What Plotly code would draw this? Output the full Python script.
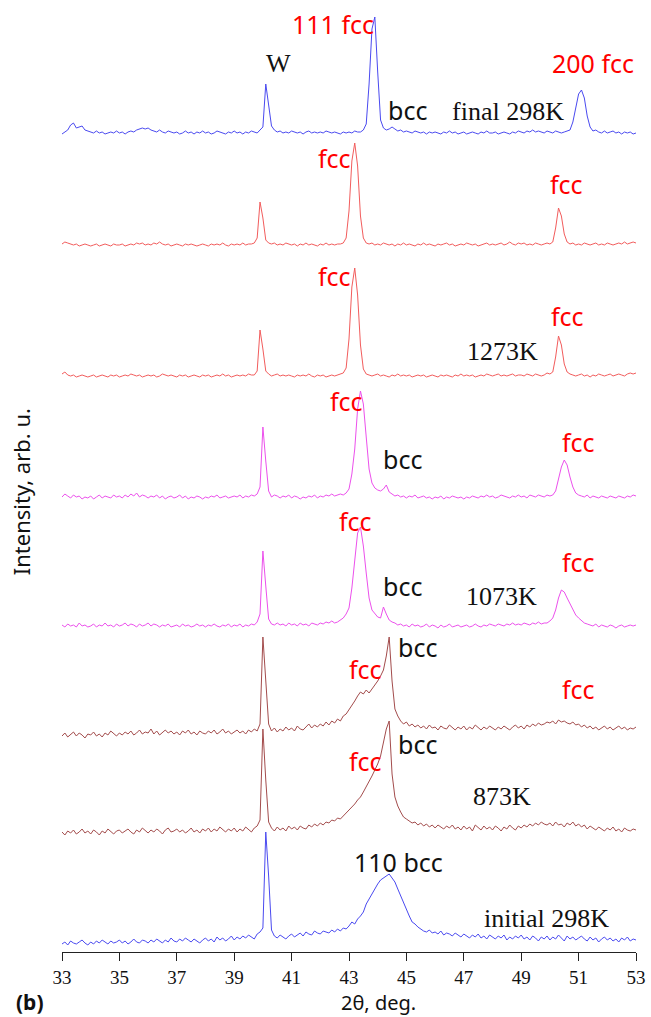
import numpy as np
import plotly.graph_objects as go

# 2-theta sampling (deg): 33.0 .. 53.0, step 0.1
two_theta = np.round(np.arange(33.0, 53.0001, 0.1), 2)

# Intensities (arb. u., above each pattern's own baseline)
final_298K = [
    0, 2, 4, 9, 11, 6, 7, 8, 4, 3,
    2, 1, 3, 1, 2, 0, 1, 2, 1, 3,
    1, 2, 0, 2, 3, 2, 4, 5, 6, 5,
    6, 4, 3, 2, 4, 2, 1, 3, 2, 1,
    2, 0, 1, 3, 1, 2, 0, 2, 1, 3,
    1, 2, 0, 1, 3, 2, 1, 0, 2, 1,
    3, 1, 2, 0, 2, 1, 3, 2, 1, 4,
    7, 50, 30, 8, 4, 2, 3, 1, 2, 1,
    3, 2, 1, 2, 0, 2, 3, 1, 2, 1,
    2, 1, 3, 2, 1, 2, 1, 0, 2, 1,
    2, 1, 3, 2, 2, 4, 10, 50, 105, 117,
    62, 14, 6, 4, 5, 7, 5, 3, 4, 2,
    3, 2, 1, 3, 2, 1, 2, 0, 2, 1,
    2, 1, 0, 2, 1, 3, 1, 2, 0, 1,
    2, 0, 1, 2, 1, 0, 2, 1, 3, 1,
    1, 2, 0, 1, 2, 1, 0, 2, 1, 3,
    2, 1, 3, 2, 4, 2, 3, 2, 1, 3,
    2, 1, 3, 2, 1, 2, 3, 4, 12, 27,
    40, 44, 36, 18, 7, 3, 4, 2, 1, 3,
    1, 2, 3, 1, 2, 0, 2, 1, 2, 0,
    1]

heat_1273K_a = [
    2, 4, 3, 2, 1, 2, 0, 1, 2, 1,
    0, 1, 2, 0, 1, 2, 1, 0, 2, 1,
    1, 2, 0, 1, 2, 1, 3, 2, 3, 1,
    2, 1, 3, 2, 4, 2, 1, 2, 0, 1,
    2, 1, 0, 2, 1, 2, 1, 0, 1, 2,
    1, 0, 2, 1, 2, 1, 3, 1, 0, 2,
    1, 2, 1, 3, 1, 2, 2, 3, 8, 44,
    28, 6, 3, 2, 3, 1, 2, 1, 3, 2,
    1, 2, 0, 2, 1, 3, 1, 2, 1, 0,
    2, 1, 3, 1, 2, 1, 2, 2, 3, 8,
    35, 85, 103, 80, 30, 8, 3, 2, 3, 1,
    2, 1, 3, 2, 1, 2, 0, 2, 1, 3,
    1, 2, 1, 0, 2, 1, 3, 1, 2, 1,
    0, 2, 1, 2, 3, 1, 2, 0, 1, 2,
    1, 3, 2, 1, 2, 0, 1, 2, 3, 1,
    2, 1, 2, 3, 1, 2, 4, 2, 1, 3,
    2, 3, 1, 2, 1, 3, 2, 1, 2, 3,
    2, 4, 18, 38, 30, 12, 4, 2, 3, 1,
    2, 1, 3, 2, 1, 2, 3, 1, 2, 1,
    3, 2, 1, 2, 3, 2, 4, 2, 3, 4,
    3]

heat_1273K_b = [
    3, 5, 2, 1, 2, 0, 1, 2, 1, 0,
    1, 2, 0, 1, 2, 1, 0, 2, 1, 2,
    0, 1, 2, 1, 3, 2, 1, 2, 0, 1,
    2, 1, 2, 0, 1, 3, 2, 1, 2, 1,
    0, 2, 1, 2, 0, 1, 2, 1, 0, 2,
    1, 2, 0, 1, 2, 1, 3, 1, 2, 0,
    1, 2, 1, 2, 1, 3, 2, 2, 6, 47,
    28, 6, 3, 1, 2, 3, 1, 2, 1, 2,
    1, 0, 2, 1, 2, 1, 3, 1, 0, 2,
    1, 2, 0, 1, 2, 1, 2, 3, 4, 9,
    38, 90, 109, 82, 32, 8, 3, 2, 1, 2,
    3, 1, 2, 1, 0, 2, 1, 3, 1, 2,
    1, 2, 0, 1, 2, 1, 2, 0, 1, 2,
    1, 0, 2, 1, 2, 1, 0, 2, 1, 3,
    1, 2, 1, 2, 0, 1, 2, 1, 3, 2,
    1, 2, 3, 1, 2, 1, 2, 3, 1, 2,
    2, 1, 3, 2, 1, 3, 2, 1, 2, 4,
    3, 5, 20, 41, 32, 13, 5, 3, 2, 1,
    2, 3, 1, 2, 0, 2, 1, 3, 2, 1,
    2, 3, 1, 2, 3, 2, 1, 3, 4, 3,
    4]

heat_1073K_a = [
    2, 5, 3, 1, 4, 2, 3, 0, 2, 1,
    3, 0, 2, 4, 1, 3, 2, 1, 4, 2,
    3, 1, 4, 2, 5, 3, 6, 2, 4, 3,
    1, 3, 2, 4, 1, 3, 0, 2, 3, 1,
    2, 4, 1, 3, 0, 2, 1, 3, 2, 0,
    2, 1, 3, 2, 4, 1, 2, 3, 1, 2,
    3, 2, 4, 1, 3, 2, 4, 3, 5, 12,
    72, 38, 8, 2, 4, 3, 1, 3, 2, 4,
    1, 3, 2, 0, 2, 1, 3, 2, 4, 1,
    3, 2, 4, 3, 5, 3, 4, 5, 4, 6,
    10, 25, 50, 90, 108, 95, 62, 30, 16, 11,
    9, 8, 10, 14, 7, 5, 3, 4, 2, 3,
    1, 3, 2, 4, 1, 2, 3, 1, 2, 0,
    2, 1, 3, 0, 2, 1, 3, 2, 1, 2,
    0, 2, 1, 3, 2, 1, 3, 2, 4, 2,
    3, 1, 2, 4, 3, 2, 1, 3, 2, 4,
    2, 3, 1, 4, 3, 2, 4, 3, 2, 4,
    3, 4, 8, 20, 32, 39, 34, 22, 12, 6,
    4, 3, 2, 4, 1, 3, 2, 1, 3, 2,
    1, 3, 2, 1, 3, 2, 1, 3, 2, 4,
    3]

heat_1073K_b = [
    3, 1, 4, 2, 3, 1, 5, 2, 3, 1,
    2, 4, 1, 3, 2, 5, 2, 3, 1, 4,
    2, 3, 5, 2, 4, 3, 1, 4, 2, 3,
    5, 2, 4, 3, 1, 3, 2, 4, 1, 2,
    3, 1, 4, 2, 3, 1, 2, 4, 2, 3,
    1, 3, 2, 4, 2, 1, 3, 2, 4, 1,
    3, 2, 4, 1, 3, 2, 4, 3, 6, 14,
    77, 42, 9, 4, 3, 5, 3, 4, 2, 5,
    3, 4, 2, 5, 3, 4, 2, 5, 4, 3,
    5, 4, 6, 5, 7, 5, 6, 8, 10, 14,
    20, 40, 70, 95, 101, 82, 55, 30, 18, 14,
    11, 10, 21, 14, 8, 6, 5, 3, 4, 2,
    3, 1, 4, 2, 3, 1, 2, 4, 1, 3,
    2, 0, 3, 1, 2, 4, 1, 2, 3, 1,
    2, 3, 1, 2, 4, 2, 1, 3, 2, 4,
    3, 2, 4, 3, 2, 4, 3, 5, 3, 4,
    3, 5, 4, 3, 5, 4, 6, 4, 5, 5,
    7, 10, 18, 30, 38, 36, 30, 24, 18, 13,
    10, 7, 5, 4, 3, 2, 4, 1, 3, 2,
    1, 3, 2, 0, 2, 3, 1, 2, 3, 2,
    3]

heat_873K_a = [
    0, 3, -1, 2, 4, 0, 3, 1, -2, 2,
    1, 4, 0, 2, -1, 3, 1, 5, 2, 0,
    3, 1, 4, 2, 5, 1, 3, 6, 2, 4,
    3, 7, 2, 5, 1, 4, 6, 3, 5, 2,
    4, 1, 5, 3, 6, 2, 4, 1, 5, 3,
    2, 5, 3, 6, 2, 4, 7, 3, 5, 2,
    4, 6, 3, 5, 2, 6, 4, 7, 5, 12,
    99, 58, 12, 5, 8, 4, 7, 5, 9, 6,
    8, 5, 10, 7, 6, 9, 12, 8, 11, 9,
    12, 10, 14, 11, 15, 13, 17, 15, 20, 22,
    26, 30, 35, 40, 44, 42, 46, 43, 47, 50,
    55, 60, 66, 80, 99, 55, 27, 20, 15, 12,
    14, 10, 12, 9, 11, 8, 10, 7, 11, 8,
    9, 6, 10, 8, 7, 11, 8, 6, 9, 7,
    10, 6, 9, 7, 11, 8, 6, 9, 7, 10,
    8, 6, 9, 7, 10, 8, 6, 9, 11, 8,
    10, 7, 11, 9, 12, 10, 13, 11, 12, 14,
    13, 15, 12, 16, 14, 15, 13, 12, 14, 11,
    12, 9, 11, 8, 10, 7, 9, 6, 8, 10,
    7, 9, 6, 8, 10, 7, 9, 6, 8, 7,
    9]

heat_873K_b = [
    2, -1, 3, 1, 4, 0, 2, 5, 1, 3,
    0, 4, 2, -1, 3, 1, 5, 2, 0, 3,
    4, 1, 3, 5, 2, 0, 4, 2, 6, 3,
    1, 4, 2, 5, 3, 0, 4, 6, 2, 3,
    5, 2, 4, 1, 3, 6, 2, 4, 1, 5,
    3, 6, 2, 5, 3, 7, 4, 2, 5, 3,
    6, 2, 5, 3, 7, 4, 2, 6, 8, 14,
    105, 54, 12, 6, 3, 7, 4, 6, 3, 8,
    5, 7, 4, 8, 6, 5, 9, 7, 10, 8,
    11, 9, 12, 11, 14, 13, 16, 15, 18, 20,
    24, 27, 30, 34, 37, 42, 47, 52, 58, 64,
    70, 78, 90, 105, 113, 60, 37, 28, 22, 17,
    15, 13, 11, 12, 9, 11, 8, 10, 7, 9,
    6, 9, 7, 5, 8, 6, 9, 5, 7, 4,
    8, 5, 7, 3, 9, 6, 4, 8, 5, 7,
    4, 8, 6, 3, 7, 5, 9, 6, 4, 8,
    6, 9, 7, 10, 8, 11, 9, 12, 10, 9,
    11, 8, 12, 9, 10, 7, 11, 9, 12, 8,
    10, 7, 9, 5, 8, 6, 4, 7, 5, 3,
    6, 4, 7, 3, 5, 2, 6, 4, 3, 5,
    4]

initial_298K = [
    0, 2, -1, 3, 1, 0, 2, 4, 1, -1,
    2, 0, 3, 1, 4, 2, 0, 3, 1, 2,
    4, 1, 3, 0, 2, 5, 2, 1, 4, 3,
    1, 4, 2, 5, 3, 1, 4, 2, 6, 3,
    2, 5, 3, 6, 4, 2, 5, 3, 1, 4,
    6, 3, 5, 2, 7, 4, 6, 3, 5, 8,
    4, 7, 5, 8, 6, 9, 7, 5, 10, 12,
    16, 112, 68, 14, 8, 6, 9, 7, 5, 8,
    10, 7, 9, 11, 8, 12, 10, 9, 13, 11,
    10, 13, 12, 11, 14, 12, 15, 13, 16, 15,
    18, 22, 20, 25, 28, 32, 40, 45, 50, 56,
    60, 64, 66, 68, 70, 66, 62, 55, 48, 42,
    35, 28, 22, 20, 17, 15, 13, 12, 14, 11,
    12, 10, 13, 9, 11, 10, 8, 11, 9, 7,
    10, 8, 6, 9, 7, 10, 6, 8, 5, 9,
    7, 5, 8, 6, 9, 4, 7, 5, 8, 6,
    9, 5, 7, 4, 8, 6, 3, 7, 5, 8,
    4, 7, 5, 9, 6, 3, 8, 5, 7, 4,
    6, 8, 5, 3, 7, 4, 6, 2, 5, 7,
    4, 6, 3, 5, 2, 6, 4, 7, 3, 5,
    4]

patterns = [final_298K, heat_1273K_a, heat_1273K_b, heat_1073K_a,
            heat_1073K_b, heat_873K_a, heat_873K_b, initial_298K]
offsets = [818, 706, 575, 453, 324, 216, 118, 8]
colors = ["#4a4af0", "#f25c5c", "#f25c5c", "#ec50ec",
          "#ec50ec", "#a34c4c", "#a34c4c", "#4a4af0"]

x_ticks = [33, 35, 37, 39, 41, 43, 45, 47, 49, 51, 53]

# Text labels: (text, 2theta, height, colour, family)
RED = "#ff0000"
BLK = "#111111"
SANS = "Noto Sans"
SERIF = "Liberation Serif"
labels = [
    ("111 fcc", 42.43, 928, RED, SANS),
    ("W", 40.54, 889, BLK, SERIF),
    ("200 fcc", 51.51, 889, RED, SANS),
    ("bcc", 45.04, 842, BLK, SANS),
    ("final 298K", 48.54, 841, BLK, SERIF),
    ("fcc", 42.51, 794, RED, SANS),
    ("fcc", 50.58, 768, RED, SANS),
    ("fcc", 42.51, 676, RED, SANS),
    ("fcc", 50.61, 636, RED, SANS),
    ("1273K", 48.36, 601, BLK, SERIF),
    ("fcc", 42.93, 551, RED, SANS),
    ("bcc", 44.87, 493, BLK, SANS),
    ("fcc", 50.99, 510, RED, SANS),
    ("fcc", 43.24, 431, RED, SANS),
    ("bcc", 44.87, 366, BLK, SANS),
    ("1073K", 48.33, 356, BLK, SERIF),
    ("fcc", 50.99, 390, RED, SANS),
    ("fcc", 43.59, 283, RED, SANS),
    ("bcc", 45.39, 305, BLK, SANS),
    ("fcc", 50.99, 263, RED, SANS),
    ("fcc", 43.59, 191, RED, SANS),
    ("bcc", 45.39, 208, BLK, SANS),
    ("873K", 48.33, 156, BLK, SERIF),
    ("110 bcc", 44.73, 90, BLK, SANS),
    ("initial 298K", 49.89, 34, BLK, SERIF),
]

# Double-headed arrows marking temperature stages: (2theta, top, bottom)
arrows = [(53.07, 757, 542), (53.07, 537, 299), (53.07, 290, 55)]

fig = go.Figure()
for vals, off, col in zip(patterns, offsets, colors):
    fig.add_trace(go.Scatter(
        x=two_theta, y=np.array(vals) + off, mode="lines",
        line=dict(color=col, width=1), hoverinfo="skip", showlegend=False))

annotations = []
for text, xv, yv, col, fam in labels:
    size = 25 if fam == SANS else 26
    annotations.append(dict(x=xv, y=yv, xref="x", yref="y", text=text,
                            showarrow=False, xanchor="center", yanchor="middle",
                            font=dict(family=fam, size=size, color=col)))
for xv, ytop, ybot in arrows:
    annotations.append(dict(x=xv, y=ytop, ax=xv, ay=ybot, xref="x", yref="y",
                            axref="x", ayref="y", text="", showarrow=True,
                            arrowhead=2, arrowside="end+start", arrowsize=1.3,
                            arrowwidth=1.4, arrowcolor="#1a1a1a", standoff=0,
                            startstandoff=0, startarrowhead=2, startarrowsize=1.3))

annotations.append(dict(x=44.04, y=-0.0528, xref="x", yref="paper",
                        text="2θ, deg.", showarrow=False, xanchor="center",
                        yanchor="middle", font=dict(family=SANS, size=20, color=BLK)))
annotations.append(dict(x=-0.071, y=460, xref="paper", yref="y",
                        text="Intensity, arb. u.", showarrow=False, textangle=-90,
                        xanchor="center", yanchor="middle",
                        font=dict(family=SANS, size=22, color=BLK)))
annotations.append(dict(x=-0.055, y=-0.0528, xref="paper", yref="paper",
                        text="<b>(b)</b>", showarrow=False, xanchor="center",
                        yanchor="middle", font=dict(family=SANS, size=21, color=BLK)))

fig.update_layout(
    width=651, height=1017,
    margin=dict(l=62, r=11, t=5, b=65),
    paper_bgcolor="white", plot_bgcolor="white",
    xaxis=dict(range=[33, 53], tickvals=x_ticks, ticktext=[str(t) for t in x_ticks],
               showline=True, linecolor="#222", linewidth=1.2,
               ticks="outside", ticklen=8, tickcolor="#222", tickwidth=1.2,
               showgrid=False, zeroline=False,
               tickfont=dict(family=SERIF, size=19, color=BLK)),
    yaxis=dict(range=[0, 947], visible=False, showgrid=False, zeroline=False),
    annotations=annotations,
)

# Remove the default page margin so the figure fills the window exactly.
fig.write_html("out.html",
               config={"displayModeBar": False},
               post_script="document.body.style.margin='0px';"
                           "document.body.style.overflow='hidden';")
